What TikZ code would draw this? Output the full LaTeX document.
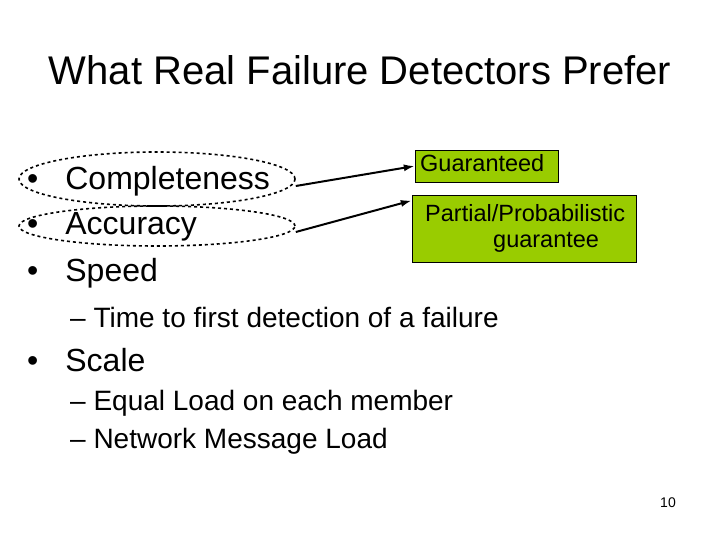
\documentclass[tikz,border=0pt]{standalone}
\usepackage{fontspec}
\setmainfont{Liberation Sans}
\usetikzlibrary{shapes.geometric,arrows.meta}
\definecolor{boxg}{RGB}{153,204,0}
\begin{document}
\begin{tikzpicture}[x=1pt,y=-1pt,
  bul/.style={anchor=west,font=\fontsize{32}{32}\selectfont,inner sep=0},
  sub/.style={anchor=west,font=\fontsize{28}{28}\selectfont,inner sep=0},
  gb/.style={draw,fill=boxg,inner sep=0},
  bt/.style={anchor=north west,font=\fontsize{23.5}{26}\selectfont,inner sep=0,align=left},
  ov/.style={draw,dashed,line width=1.6pt,ellipse,inner sep=0},
  arr/.style={-{Latex[length=11pt,width=7pt]},line width=2pt}]
\useasboundingbox (0,0) rectangle (720,540);
\node[font=\fontsize{40}{40}\selectfont] (t) at (360,70) {What Real Failure Detectors Prefer};
\node[bul] (b1) at (27,181) {•\hspace{27pt}Completeness};
\node[bul] (b2) at (27,227) {•\hspace{27pt}Accuracy};
\node[bul] (b3) at (27,273) {•\hspace{27pt}Speed};
\node[sub] (s1) at (70,317) {– Time to first detection of a failure};
\node[bul] (b4) at (27,360) {•\hspace{27pt}Scale};
\node[sub] (s2) at (70,403) {– Equal Load on each member};
\node[sub] (s3) at (70,441) {– Network Message Load};
\node[font=\fontsize{14}{14}\selectfont] (pg) at (668,503) {10};
\node[ov,minimum width=276,minimum height=54] (e1) at (157,179) {};
\node[ov,minimum width=276,minimum height=40] (e2) at (157,226) {};
\node[gb,minimum width=143,minimum height=32] (g1) at (486.5,166) {};
\node[bt] (g1t) at (420,154) {Guaranteed};
\node[gb,minimum width=224,minimum height=67] (g2) at (524,228.5) {};
\node[bt] (g2t) at (425,204) {Partial/Probabilistic\\\hspace{68pt}guarantee};
\draw[arr] (e1.east) ++(0,7) coordinate (a1) -- (g1.west);
\draw[arr] (e2.east) ++(0,6) coordinate (a2) -- ([yshift=28pt]g2.west);
\end{tikzpicture}
\end{document}
